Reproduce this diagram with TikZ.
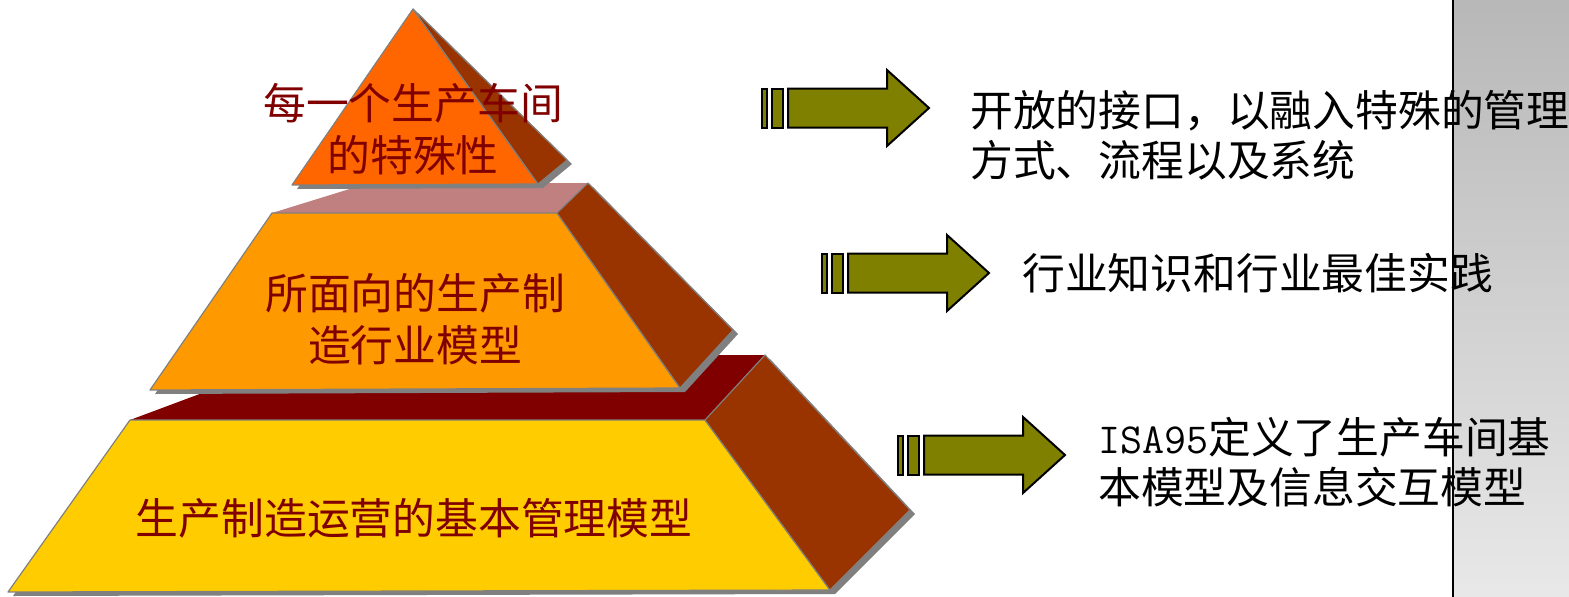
\documentclass[tikz,border=0pt]{standalone}
\usepackage{fontspec}
\setmainfont{Noto Sans CJK SC}
\usepackage{tikz}
\definecolor{topface}{HTML}{FF6600}
\definecolor{midface}{HTML}{FF9900}
\definecolor{basface}{HTML}{FFCC00}
\definecolor{sideface}{HTML}{993300}
\definecolor{midlid}{HTML}{C08080}
\definecolor{baslid}{HTML}{800000}
\definecolor{labelred}{HTML}{800000}
\definecolor{olivefill}{HTML}{808000}
\definecolor{shadowgray}{HTML}{808080}

\begin{document}
\begin{tikzpicture}[x=1pt,y=-1pt,
   shadowface/.style={fill=shadowgray,shift={(5,4)}},
   face/.style={draw=shadowgray,line width=1.2pt,line join=round},
   arrowbox/.style={fill=olivefill,draw=black,line width=2pt,line join=miter},
   pyrlabel/.style={text=labelred,align=center,inner sep=0pt,font=\fontsize{42.8}{52}\selectfont},
   notelabel/.style={text=black,align=left,anchor=west,inner sep=0pt,font=\fontsize{42.8}{50}\selectfont}]
   \useasboundingbox (0,0) rectangle (1569,597);

   % grey side panel
   \shade[top color=black!28,bottom color=black!9] (1453,0) rectangle (1569,597);
   \draw[line width=1.2pt] (1453,0) -- (1453,597);

   % bottom tier
   \fill[shadowface] (130,420) -- (705,420) -- (765,355) -- (910,510) -- (830,590) -- (8,592) -- cycle;
   \fill[baslid] (130,420) -- (304,355) -- (765,355) -- (705,420) -- cycle;
   \filldraw[face,fill=basface] (130,420) -- (705,420) -- (830,590) -- (8,592) -- cycle;
   \filldraw[face,fill=sideface] (705,420) -- (765,355) -- (910,510) -- (830,590) -- cycle;

   % middle tier
   \fill[shadowface] (272,213) -- (557,213) -- (588,183) -- (733,330) -- (680,388) -- (150,390) -- cycle;
   \fill[midlid] (272,213) -- (369,183) -- (588,183) -- (557,213) -- cycle;
   \filldraw[face,fill=midface] (272,213) -- (557,213) -- (680,388) -- (150,390) -- cycle;
   \filldraw[face,fill=sideface] (557,213) -- (588,183) -- (733,330) -- (680,388) -- cycle;

   % top tier
   \fill[shadowface] (413,9) -- (567,160) -- (538,184) -- (292,185) -- cycle;
   \filldraw[face,fill=topface] (413,9) -- (538,184) -- (292,185) -- cycle;
   \filldraw[face,fill=sideface] (413,9) -- (567,160) -- (538,184) -- cycle;

   \node[pyrlabel] (toplabel) at (413,129) {每一个生产车间\\的特殊性};
   \node[pyrlabel] (midlabel) at (415,319) {所面向的生产制\\造行业模型};
   \node[pyrlabel] (baselabel) at (414,518) {生产制造运营的基本管理模型};

   % arrows
   \foreach \ax/\ay in {762/108, 822/273, 898/455} {
     \begin{scope}[shift={(\ax,\ay)}]
       \draw[arrowbox] (0,-19.5) rectangle (5,19.5);
       \draw[arrowbox] (10,-19.5) rectangle (21,19.5);
       \draw[arrowbox] (26,-19.5) -- (125,-19.5) -- (125,-38) -- (167,0)
          -- (125,38) -- (125,19.5) -- (26,19.5) -- cycle;
     \end{scope}
   }

   \node[notelabel] (topnote) at (970,135) {开放的接口，以融入特殊的管理\\方式、流程以及系统};
   \node[notelabel] (midnote) at (1022,273) {行业知识和行业最佳实践};
   \node[notelabel] (basenote) at (1098,462) {{\ttfamily ISA95}定义了生产车间基\\本模型及信息交互模型};
\end{tikzpicture}
\end{document}
